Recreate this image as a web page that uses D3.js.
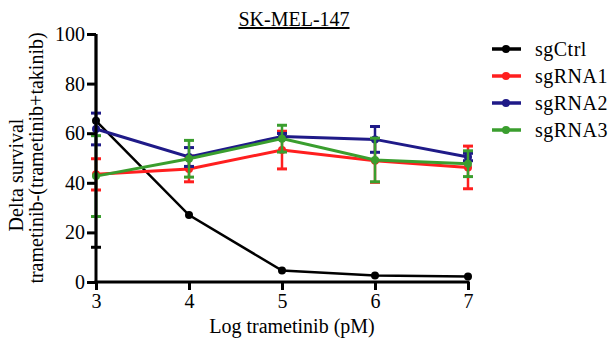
<!DOCTYPE html>
<html>
<head>
<meta charset="utf-8">
<script src="https://cdn.jsdelivr.net/npm/d3@7"></script>
</head>
<body style="margin:0">
<div id="chart"></div>
<script>
var width = 611
var height = 341
var margin = {top: 34, right: 143, bottom: 59, left: 96}

// Data
var doses = [3, 4, 5, 6, 7]
var seriesNames = ["sgCtrl", "sgRNA1", "sgRNA2", "sgRNA3"]
var seriesColors = ["#000000", "#ff1f1f", "#1f1a88", "#3a9e2e"]
var sgCtrl = [65, 27, 4.6, 2.6, 2.2]
var sgCtrlErr = [51, 0, 0, 0, 0]
var sgRNA1 = [43.4, 45.6, 53.2, 48.9, 46.2]
var sgRNA1Err = [6.3, 5.2, 7.6, 8.7, 8.6]
var sgRNA2 = [61.7, 50.4, 58.7, 57.5, 50.4]
var sgRNA2Err = [6.4, 3.8, 1.2, 5.2, 1.5]
var sgRNA3 = [42.7, 49.7, 57.8, 49.2, 47.7]
var sgRNA3Err = [16.3, 7.4, 5.4, 8.8, 5.2]
var yTicks = [0, 20, 40, 60, 80, 100]

var allValues = [sgCtrl, sgRNA1, sgRNA2, sgRNA3]
var allErrors = [sgCtrlErr, sgRNA1Err, sgRNA2Err, sgRNA3Err]

var serif = "Liberation Serif"

var x_scale = d3.scaleLinear()
    .domain([3, 7])
    .range([margin.left, width - margin.right])

var y_scale = d3.scaleLinear()
    .domain([0, 100])
    .range([height - margin.bottom, margin.top])

var svg = d3.select("#chart")
    .append("svg")
    .attr("width", width)
    .attr("height", height)
    .style("background-color", "white")

svg.append("defs").append("clipPath")
    .attr("id", "plotclip")
    .append("rect")
    .attr("x", margin.left - 20)
    .attr("y", margin.top)
    .attr("width", width - margin.right - margin.left + 40)
    .attr("height", height - margin.bottom - margin.top + 5)

// Series
var plot = svg.append("g").attr("clip-path", "url(#plotclip)")

var line = d3.line()
    .x(function(d, i) { return x_scale(doses[i]) })
    .y(function(d) { return y_scale(d) })

allValues.forEach(function(vals, s) {
    var g = plot.append("g")
    var errs = allErrors[s]
    var col = seriesColors[s]

    vals.forEach(function(v, i) {
        if (errs[i] <= 0) return
        var cx = x_scale(doses[i])
        var top = y_scale(v + errs[i])
        var bot = y_scale(v - errs[i])
        g.append("line")
            .attr("x1", cx).attr("x2", cx)
            .attr("y1", top).attr("y2", bot)
            .attr("stroke", col).attr("stroke-width", 2.5)
        g.append("line")
            .attr("x1", cx - 5).attr("x2", cx + 5)
            .attr("y1", top).attr("y2", top)
            .attr("stroke", col).attr("stroke-width", 3)
        g.append("line")
            .attr("x1", cx - 5).attr("x2", cx + 5)
            .attr("y1", bot).attr("y2", bot)
            .attr("stroke", col).attr("stroke-width", 3)
    })

    g.append("path")
        .datum(vals)
        .attr("d", line)
        .attr("fill", "none")
        .attr("stroke", col)
        .attr("stroke-width", s == 0 ? 2.5 : 3)

    g.selectAll("circle")
        .data(vals)
        .enter()
        .append("circle")
        .attr("cx", function(d, i) { return x_scale(doses[i]) })
        .attr("cy", function(d) { return y_scale(d) })
        .attr("r", 4)
        .attr("fill", col)
})

// Axes
var yAxis = d3.axisLeft(y_scale)
    .tickValues(yTicks)
    .tickSize(9)
    .tickPadding(2)

var xAxis = d3.axisBottom(x_scale)
    .tickValues(doses)
    .tickFormat(d3.format("d"))
    .tickSize(8)
    .tickPadding(4)

var gy = svg.append("g")
    .attr("transform", "translate(" + margin.left + ",0)")
    .call(yAxis)

var gx = svg.append("g")
    .attr("transform", "translate(0," + (height - margin.bottom) + ")")
    .call(xAxis)

gx.select(".domain").attr("d", "M" + (margin.left - 1.5) + ",0H" + (width - margin.right + 1.5))
gy.select(".domain").attr("d", "M0," + (height - margin.bottom + 1.5) + "V" + margin.top)

;[gx, gy].forEach(function(g) {
    g.attr("font-family", null).attr("font-size", null)
    g.select(".domain").attr("stroke", "#000").attr("stroke-width", 3)
    g.selectAll(".tick line").attr("stroke", "#000").attr("stroke-width", 3)
    g.selectAll(".tick text")
        .attr("fill", "#000")
        .attr("font-family", serif)
        .attr("font-size", 20)
})

// Title
svg.append("text")
    .attr("x", 294)
    .attr("y", 26)
    .attr("text-anchor", "middle")
    .attr("font-family", serif)
    .attr("font-size", 20)
    .attr("text-decoration", "underline")
    .text("SK-MEL-147")

// Axis titles
svg.append("text")
    .attr("x", 292)
    .attr("y", 333)
    .attr("text-anchor", "middle")
    .attr("font-family", serif)
    .attr("font-size", 20)
    .text("Log trametinib (pM)")

svg.append("text")
    .attr("transform", "translate(23,175) rotate(-90)")
    .attr("text-anchor", "middle")
    .attr("font-family", serif)
    .attr("font-size", 20)
    .text("Delta survival")

svg.append("text")
    .attr("transform", "translate(43,158) rotate(-90)")
    .attr("text-anchor", "middle")
    .attr("font-family", serif)
    .attr("font-size", 20)
    .text("trametinib-(trametinib+takinib)")

// Legend
var legend = svg.append("g")
    .attr("transform", "translate(492,49)")

seriesNames.forEach(function(name, i) {
    var row = legend.append("g").attr("transform", "translate(0," + (i * 27) + ")")
    row.append("line")
        .attr("x1", 0).attr("x2", 29)
        .attr("stroke", seriesColors[i])
        .attr("stroke-width", 3.5)
    row.append("circle")
        .attr("cx", 14).attr("r", 4)
        .attr("fill", seriesColors[i])
    row.append("text")
        .attr("x", 43)
        .attr("y", 7)
        .attr("font-family", serif)
        .attr("font-size", 20)
        .attr("letter-spacing", 0.5)
        .text(name)
})
</script>
</body>
</html>
